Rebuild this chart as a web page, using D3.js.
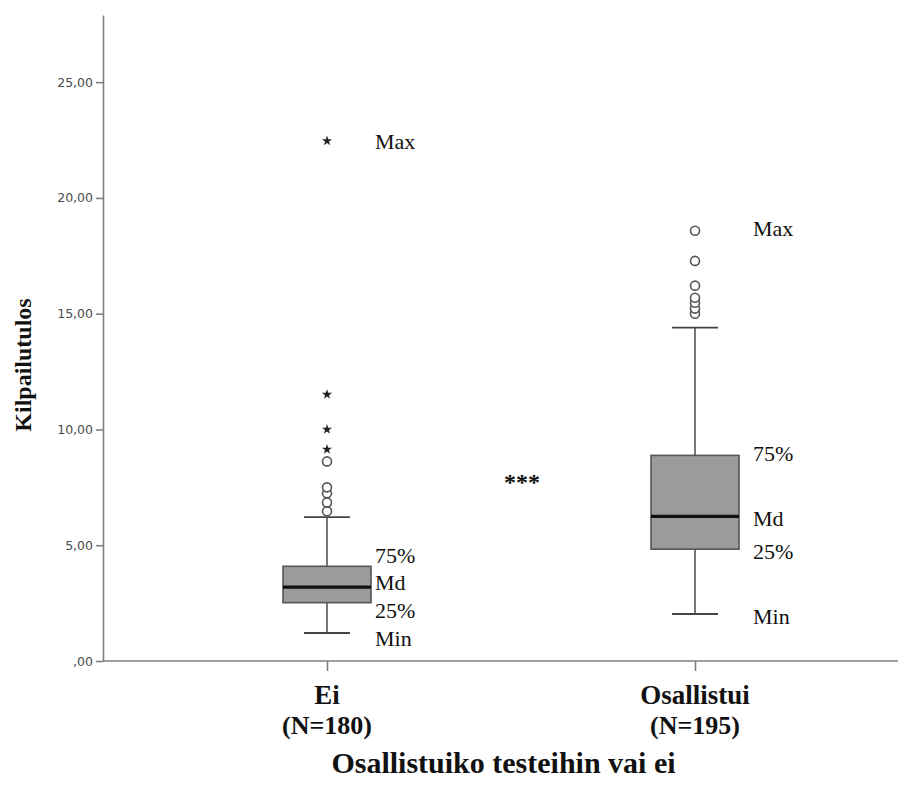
<!DOCTYPE html>
<html>
<head>
<meta charset="utf-8">
<script src="https://cdn.jsdelivr.net/npm/d3@7"></script>
<style>
    body { margin: 0; background: #fff; }
    .tick text { font-family: "DejaVu Sans", sans-serif; fill: #4a4a4a; }
    .serif { font-family: "Liberation Serif", "Times New Roman", serif; fill: #111; }
</style>
</head>
<body>
<div class="box-chart-container"></div>
<script>
// data
const categories = ["Ei", "Osallistui"];
const groupN = [180, 195];
const minValues = [1.21, 2.03];
const q1Values = [2.52, 4.83];
const medianValues = [3.19, 6.25];
const q3Values = [4.09, 8.88];
const upperWhisker = [6.21, 14.40];
const outliers = [
    [6.47, 6.85, 7.24, 7.50, 8.62],
    [15.00, 15.22, 15.47, 15.69, 16.21, 17.28, 18.58]
];
const extremes = [
    [9.14, 10.00, 11.51, 22.46],
    []
];
const yTicks = [0, 5, 10, 15, 20, 25];
const noteLabels = ["Max", "75%", "Md", "25%", "Min"];
// where the note labels sit (value units)
const noteAt = [
    [22.46, 4.57, 3.40, 2.20, 0.99],
    [18.70, 8.97, 6.16, 4.74, 1.94]
];

// canvas
const svg_width = 911;
const svg_height = 790;
const plot = { left: 103, right: 898, top: 15, bottom: 661 };

const svg = d3.select(".box-chart-container").append("svg")
    .attr("width", svg_width)
    .attr("height", svg_height);

// scales
const yScale = d3.scaleLinear([0, 27.9], [plot.bottom, plot.top]);
const xScale = d3.scalePoint().domain(categories).range([327, 695]);
const boxWidth = 88;
const capWidth = 46;
const noteOffset = [48, 58];

const fmt = d => d === 0 ? ",00" : d.toFixed(2).replace(".", ",");

// y axis
const yAxis = d3.axisLeft(yScale)
    .tickValues(yTicks)
    .tickFormat(fmt)
    .tickSizeInner(7)
    .tickSizeOuter(0)
    .tickPadding(3);
const yAxisDraw = svg.append("g")
    .attr("class", "y axis")
    .attr("transform", `translate(${plot.left},0)`)
    .call(yAxis);
yAxisDraw.selectAll("text").style("font-size", "12.5px");
yAxisDraw.selectAll("path, line").attr("stroke", "#808080").attr("stroke-width", 1.6);

// x axis
svg.append("line")
    .attr("x1", plot.left).attr("x2", plot.right)
    .attr("y1", plot.bottom).attr("y2", plot.bottom)
    .attr("stroke", "#808080").attr("stroke-width", 1.6);
const xAxis = d3.axisBottom(xScale).tickSize(10).tickFormat("").tickSizeOuter(0);
const xAxisDraw = svg.append("g")
    .attr("class", "x axis")
    .attr("transform", `translate(0,${plot.bottom})`)
    .call(xAxis);
xAxisDraw.select(".domain").remove();
xAxisDraw.selectAll("line").attr("stroke", "#808080").attr("stroke-width", 1.6);

// category labels
const catLabels = svg.append("g").attr("class", "cat-labels");
catLabels.selectAll(".cat-name").data(categories).join("text")
    .attr("class", "serif cat-name")
    .attr("x", d => xScale(d)).attr("y", 704)
    .attr("text-anchor", "middle")
    .style("font-size", "27px").style("font-weight", "bold")
    .text(d => d);
catLabels.selectAll(".cat-n").data(categories).join("text")
    .attr("class", "serif cat-n")
    .attr("x", d => xScale(d)).attr("y", 734)
    .attr("text-anchor", "middle")
    .style("font-size", "26px").style("font-weight", "bold")
    .text((d, i) => `(N=${groupN[i]})`);

// axis titles
svg.append("text")
    .attr("class", "serif")
    .attr("x", (plot.left + plot.right) / 2 + 3).attr("y", 773)
    .attr("text-anchor", "middle")
    .style("font-size", "30px").style("font-weight", "bold")
    .text("Osallistuiko testeihin vai ei");
svg.append("text")
    .attr("class", "serif")
    .attr("transform", "translate(31,365) rotate(-90)")
    .attr("text-anchor", "middle")
    .style("font-size", "24px").style("font-weight", "bold")
    .text("Kilpailutulos");

// boxes
const boxData = categories.map((c, i) => ({
    cat: c,
    min: minValues[i], q1: q1Values[i], median: medianValues[i],
    q3: q3Values[i], hi: upperWhisker[i],
    out: outliers[i], ext: extremes[i], notes: noteAt[i], dx: noteOffset[i]
}));

const boxes = svg.append("g").attr("class", "boxes")
    .selectAll("g").data(boxData).join("g")
    .attr("transform", d => `translate(${xScale(d.cat)},0)`);

// whiskers
boxes.append("line")
    .attr("x1", 0).attr("x2", 0)
    .attr("y1", d => yScale(d.min)).attr("y2", d => yScale(d.hi))
    .attr("stroke", "#555").attr("stroke-width", 1.6);
boxes.selectAll(".cap").data(d => [d.min, d.hi]).join("line")
    .attr("class", "cap")
    .attr("x1", -capWidth / 2).attr("x2", capWidth / 2)
    .attr("y1", d => yScale(d)).attr("y2", d => yScale(d))
    .attr("stroke", "#444").attr("stroke-width", 1.8);

// box + median
boxes.append("rect")
    .attr("x", -boxWidth / 2).attr("width", boxWidth)
    .attr("y", d => yScale(d.q3))
    .attr("height", d => yScale(d.q1) - yScale(d.q3))
    .attr("fill", "#9b9b9b").attr("stroke", "#555").attr("stroke-width", 1.6);
boxes.append("line")
    .attr("x1", -boxWidth / 2).attr("x2", boxWidth / 2)
    .attr("y1", d => yScale(d.median)).attr("y2", d => yScale(d.median))
    .attr("stroke", "#111").attr("stroke-width", 3.2);

// outliers
boxes.selectAll(".outlier").data(d => d.out).join("circle")
    .attr("class", "outlier")
    .attr("cx", 0).attr("cy", d => yScale(d)).attr("r", 4.5)
    .attr("fill", "#fff").attr("stroke", "#555").attr("stroke-width", 1.6);
const star = d3.symbol().type(d3.symbolStar).size(32);
boxes.selectAll(".extreme").data(d => d.ext).join("path")
    .attr("class", "extreme")
    .attr("d", star)
    .attr("transform", d => `translate(0,${yScale(d)})`)
    .attr("fill", "#222");

// notes: Max / 75% / Md / 25% / Min
boxes.selectAll(".note").data(d => d.notes.map((v, j) => ({ v, t: noteLabels[j], dx: d.dx }))).join("text")
    .attr("class", "serif note")
    .attr("x", d => d.dx).attr("y", d => yScale(d.v))
    .attr("dy", "0.35em")
    .style("font-size", "22px")
    .text(d => d.t);

// significance mark
svg.append("text")
    .attr("class", "serif")
    .attr("x", (xScale(categories[0]) + xScale(categories[1])) / 2 + 11)
    .attr("y", yScale(7.8))
    .attr("dy", "0.4em")
    .attr("text-anchor", "middle")
    .style("font-size", "24px").style("font-weight", "bold")
    .text("***");
</script>
</body>
</html>
